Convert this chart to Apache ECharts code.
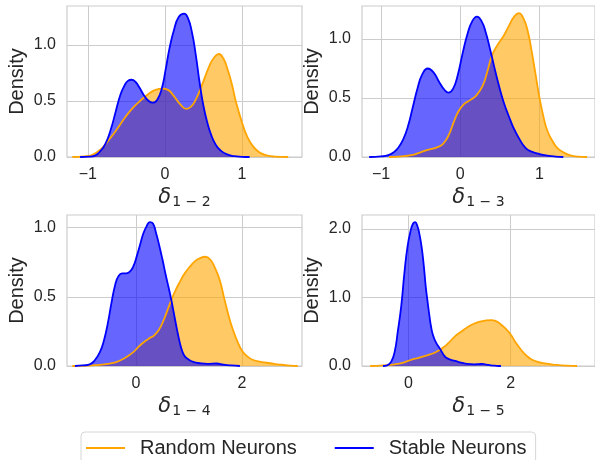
<!DOCTYPE html>
<html>
<head>
<meta charset="utf-8">
<script src="https://cdn.jsdelivr.net/npm/echarts@6/dist/echarts.min.js"></script>
<style>
  html, body { margin: 0; padding: 0; background: #fff; }
  #chart { width: 595px; height: 460px; }
</style>
</head>
<body>
<div id="chart"></div>
<script>
// KDE curves, [x, density]
const p1Random = [[-1.2,0],[-1.05,0.005],[-0.94,0.02],[-0.83,0.07],[-0.73,0.15],[-0.62,0.25],[-0.51,0.36],[-0.4,0.45],[-0.29,0.52],[-0.2,0.57],[-0.12,0.6],[-0.03,0.61],[0.04,0.6],[0.1,0.56],[0.2,0.47],[0.28,0.43],[0.34,0.45],[0.4,0.51],[0.48,0.64],[0.57,0.8],[0.63,0.88],[0.7,0.92],[0.76,0.88],[0.82,0.77],[0.87,0.65],[0.92,0.5],[1.0,0.31],[1.07,0.18],[1.15,0.09],[1.23,0.04],[1.32,0.015],[1.42,0.004],[1.6,0]]
const p1Stable = [[-1.1,0],[-0.98,0.003],[-0.9,0.015],[-0.84,0.05],[-0.77,0.12],[-0.7,0.25],[-0.64,0.4],[-0.58,0.55],[-0.53,0.63],[-0.48,0.68],[-0.43,0.69],[-0.38,0.67],[-0.33,0.62],[-0.27,0.55],[-0.21,0.5],[-0.16,0.485],[-0.1,0.51],[-0.04,0.61],[0.01,0.78],[0.06,0.97],[0.12,1.14],[0.18,1.25],[0.25,1.28],[0.3,1.24],[0.35,1.12],[0.4,0.92],[0.45,0.67],[0.5,0.46],[0.55,0.31],[0.6,0.2],[0.66,0.11],[0.72,0.06],[0.8,0.025],[0.9,0.008],[1.0,0.002],[1.1,0]]

const p2Random = [[-0.9,0],[-0.75,0.005],[-0.62,0.015],[-0.5,0.04],[-0.41,0.06],[-0.3,0.08],[-0.22,0.11],[-0.15,0.18],[-0.08,0.3],[-0.02,0.39],[0.05,0.45],[0.12,0.48],[0.2,0.52],[0.28,0.6],[0.34,0.72],[0.4,0.86],[0.47,0.95],[0.55,1.03],[0.62,1.12],[0.68,1.19],[0.74,1.22],[0.8,1.17],[0.85,1.07],[0.9,0.9],[0.95,0.7],[1.0,0.5],[1.05,0.34],[1.1,0.22],[1.16,0.14],[1.22,0.08],[1.3,0.04],[1.38,0.015],[1.48,0.004],[1.6,0]]
const p2Stable = [[-1.15,0],[-1.0,0.005],[-0.91,0.015],[-0.84,0.04],[-0.78,0.08],[-0.72,0.15],[-0.66,0.26],[-0.6,0.42],[-0.54,0.58],[-0.48,0.7],[-0.41,0.75],[-0.34,0.72],[-0.27,0.64],[-0.2,0.57],[-0.15,0.545],[-0.09,0.58],[-0.03,0.7],[0.03,0.88],[0.09,1.04],[0.15,1.15],[0.21,1.19],[0.27,1.15],[0.32,1.06],[0.37,0.93],[0.43,0.76],[0.49,0.6],[0.55,0.46],[0.61,0.35],[0.67,0.25],[0.74,0.16],[0.82,0.08],[0.9,0.045],[1.0,0.025],[1.1,0.012],[1.2,0.004],[1.3,0]]

const p3Random = [[-1.2,0],[-0.9,0.003],[-0.68,0.008],[-0.5,0.018],[-0.36,0.03],[-0.2,0.06],[-0.05,0.1],[0.05,0.14],[0.14,0.17],[0.25,0.2],[0.34,0.22],[0.43,0.26],[0.52,0.33],[0.6,0.41],[0.67,0.48],[0.75,0.55],[0.83,0.61],[0.92,0.67],[1.02,0.72],[1.12,0.76],[1.21,0.78],[1.3,0.79],[1.4,0.77],[1.5,0.7],[1.58,0.62],[1.67,0.48],[1.77,0.33],[1.84,0.25],[1.91,0.18],[2.0,0.11],[2.1,0.07],[2.2,0.045],[2.35,0.03],[2.53,0.02],[2.72,0.01],[2.9,0.003],[3.05,0]]
const p3Stable = [[-1.15,0],[-1.0,0.004],[-0.87,0.012],[-0.78,0.04],[-0.68,0.1],[-0.6,0.19],[-0.53,0.31],[-0.46,0.46],[-0.39,0.59],[-0.33,0.65],[-0.26,0.67],[-0.18,0.67],[-0.12,0.68],[-0.05,0.72],[0.02,0.8],[0.08,0.88],[0.14,0.96],[0.2,1.01],[0.26,1.04],[0.32,1.03],[0.38,0.96],[0.44,0.87],[0.5,0.77],[0.56,0.66],[0.62,0.56],[0.67,0.47],[0.72,0.37],[0.77,0.27],[0.82,0.18],[0.87,0.11],[0.92,0.07],[0.98,0.05],[1.08,0.03],[1.2,0.02],[1.35,0.015],[1.52,0.018],[1.65,0.01],[1.8,0.004],[1.96,0]]

const p4Random = [[-0.75,0],[-0.5,0.01],[-0.27,0.025],[-0.1,0.05],[0.05,0.09],[0.2,0.12],[0.38,0.16],[0.5,0.19],[0.6,0.23],[0.7,0.28],[0.8,0.35],[0.92,0.44],[1.03,0.5],[1.16,0.57],[1.29,0.62],[1.42,0.65],[1.52,0.665],[1.62,0.67],[1.7,0.66],[1.77,0.63],[1.88,0.56],[2.0,0.46],[2.1,0.34],[2.21,0.23],[2.31,0.15],[2.41,0.095],[2.55,0.055],[2.74,0.032],[2.9,0.015],[3.1,0.004],[3.3,0]]
const p4Stable = [[-0.5,0],[-0.42,0.01],[-0.34,0.06],[-0.27,0.21],[-0.21,0.5],[-0.14,0.89],[-0.08,1.36],[-0.02,1.74],[0.04,1.97],[0.09,2.08],[0.13,2.1],[0.17,2.05],[0.21,1.94],[0.25,1.77],[0.28,1.6],[0.31,1.38],[0.34,1.14],[0.38,0.9],[0.41,0.73],[0.44,0.58],[0.48,0.45],[0.54,0.34],[0.6,0.27],[0.65,0.21],[0.69,0.16],[0.74,0.12],[0.83,0.09],[0.93,0.07],[1.03,0.05],[1.15,0.03],[1.29,0.025],[1.38,0.028],[1.45,0.03],[1.53,0.02],[1.61,0.01],[1.72,0.003],[1.81,0]]

const seriesNames = ['Random Neurons', 'Stable Neurons']
const subscripts = ['1 − 2', '1 − 3', '1 − 4', '1 − 5']
const xTicksTop = [-1, 0, 1]
const xTicksBottom = [0, 2]
const yTicksHalf = [0, 0.5, 1.0]
const yTicksOne = [0, 1.0, 2.0]

const textColor = '#262626'
const gridColor = '#cccccc'

const chart = echarts.init(document.getElementById('chart'))

const grids = []
const xAxes = []
const yAxes = []
const series = []

function addPanel(i, box, xMin, xMax, xTicks, yMax, yTicks, random, stable) {
  grids.push({
    left: box[0], top: box[1], width: box[2], height: box[3],
    show: true, borderColor: gridColor, borderWidth: 1.2,
  })
  xAxes.push({
    type: 'value', gridIndex: i, min: xMin, max: xMax,
    axisLine: { show: false },
    axisTick: { show: false, customValues: xTicks },
    splitLine: { show: true, lineStyle: { color: gridColor, width: 1 } },
    axisLabel: {
      customValues: xTicks, margin: 10,
      fontFamily: 'Liberation Sans', fontSize: 16, color: textColor,
      formatter: v => String(v).replace('-', '−'),
    },
    name: '{d|δ}{s|' + subscripts[i] + '}',
    nameLocation: 'middle', nameGap: 29,
    nameTextStyle: {
      rich: {
        d: { fontFamily: 'DejaVu Sans', fontStyle: 'italic', fontSize: 21, color: textColor },
        s: { fontFamily: 'DejaVu Sans', fontSize: 14, color: textColor, padding: [9, 0, 0, 1] },
      },
    },
  })
  yAxes.push({
    type: 'value', gridIndex: i, min: 0, max: yMax,
    axisLine: { show: false },
    axisTick: { show: false, customValues: yTicks },
    splitLine: { show: true, lineStyle: { color: gridColor, width: 1 } },
    axisLabel: {
      customValues: yTicks, margin: 11,
      fontFamily: 'Liberation Sans', fontSize: 16, color: textColor,
      formatter: v => v.toFixed(1),
    },
    name: 'Density', nameLocation: 'middle', nameGap: 40,
    nameTextStyle: { fontFamily: 'Liberation Sans', fontSize: 20, color: textColor },
  })
  const common = {
    type: 'line', xAxisIndex: i, yAxisIndex: i,
    smooth: 0.5, showSymbol: false, symbol: 'none',
  }
  series.push(Object.assign({}, common, {
    name: seriesNames[0], data: random,
    lineStyle: { color: '#ffa500', width: 1.8 },
    itemStyle: { color: '#ffa500' },
    areaStyle: { color: '#ffa500', opacity: 0.6 },
  }))
  series.push(Object.assign({}, common, {
    name: seriesNames[1], data: stable,
    lineStyle: { color: '#0000ff', width: 1.8 },
    itemStyle: { color: '#0000ff' },
    areaStyle: { color: '#0000ff', opacity: 0.6 },
  }))
}

addPanel(0, [67, 6, 235, 151], -1.27, 1.78, xTicksTop, 1.349, yTicksHalf, p1Random, p1Stable)
addPanel(1, [362, 6, 235, 151], -1.24, 1.7, xTicksTop, 1.28, yTicksHalf, p2Random, p2Stable)
addPanel(2, [67, 215, 235, 151], -1.3, 3.13, xTicksBottom, 1.092, yTicksHalf, p3Random, p3Stable)
addPanel(3, [362, 215, 235, 151], -0.91, 3.65, xTicksBottom, 2.204, yTicksOne, p4Random, p4Stable)

const option = {
  animation: false,
  backgroundColor: '#ffffff',
  grid: grids,
  xAxis: xAxes,
  yAxis: yAxes,
  legend: {
    data: seriesNames,
    left: 81, top: 432,
    orient: 'horizontal',
    icon: 'rect', itemWidth: 39, itemHeight: 2, itemGap: 38,
    padding: [6, 9, 12, 5],
    borderColor: '#d6d6d6', borderWidth: 1, borderRadius: 4,
    textStyle: { fontFamily: 'Liberation Sans', fontSize: 20, color: textColor, padding: [0, 0, 0, 10] },
    selectedMode: false,
  },
  series: series,
}

chart.setOption(option)
</script>
</body>
</html>
